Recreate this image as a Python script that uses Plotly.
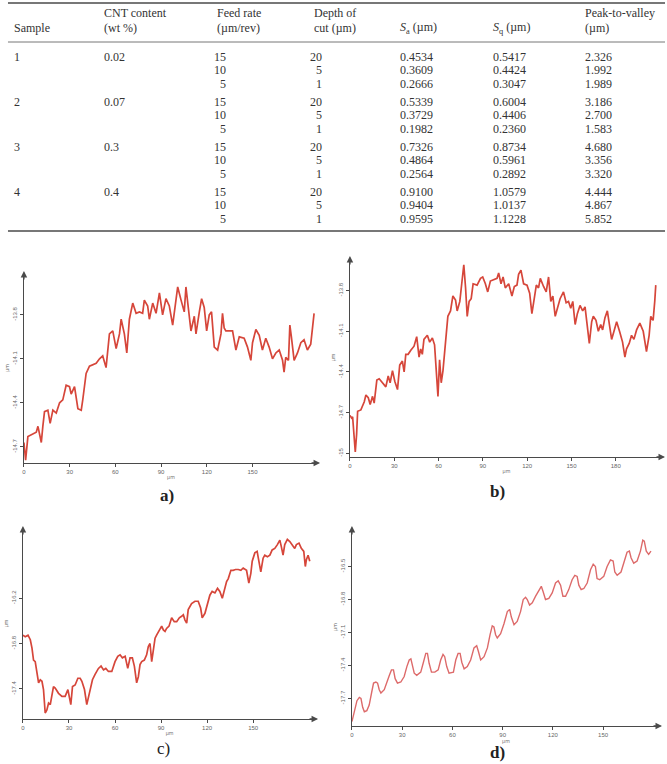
import plotly.graph_objects as go

W, H = 667, 764

# ---------------- table data ----------------
samples = ["1", "2", "3", "4"]
cnt_content = ["0.02", "0.07", "0.3", "0.4"]
feed_rate = [15, 10, 5]
depth_cut = [20, 5, 1]
sa_vals = [[0.4534, 0.3609, 0.2666], [0.5339, 0.3729, 0.1982],
           [0.7326, 0.4864, 0.2564], [0.9100, 0.9404, 0.9595]]
sq_vals = [[0.5417, 0.4424, 0.3047], [0.6004, 0.4406, 0.2360],
           [0.8734, 0.5961, 0.2892], [1.0579, 1.0137, 1.1228]]
pv_vals = [[2.326, 1.992, 1.989], [3.186, 2.700, 1.583],
           [4.680, 3.356, 3.320], [4.444, 4.867, 5.852]]

# ---------------- profile data (µm) ----------------
a_x = [0, 1.1, 2.6, 8.1, 9.2, 10.3, 11.4, 12.4, 13.5, 15.7, 17.2, 19.0, 21.2, 23.4, 25.5, 27.7, 29.9, 31.0, 33.2, 35.4,
       37.6, 38.6, 40.8, 43.0, 45.2, 47.4, 49.6, 51.7, 53.9, 56.1, 58.3, 60.5, 62.7, 63.8, 65.9, 67.5, 69.2, 71.4, 73.6, 75.8,
       77.9, 79.0, 81.2, 82.3, 84.5, 86.7, 88.9, 91.0, 93.2, 95.4, 97.6, 99.8, 100.9, 103.1, 105.2, 106.3, 107.4, 109.6, 111.8, 112.9,
       115.1, 116.6, 118.3, 119.9, 121.6, 123.1, 124.9, 127.1, 129.3, 130.3, 131.4, 132.5, 136.9, 139.1, 141.3, 144.5, 146.7, 148.9, 150.0, 152.2,
       154.4, 156.5, 158.7, 160.9, 163.1, 165.3, 167.5, 169.7, 170.7, 171.8, 173.6, 174.5, 175.5, 177.3, 179.5, 181.7, 183.8, 186.0, 188.2, 190.4]
a_y = [-14.67, -14.79, -14.63, -14.60, -14.56, -14.61, -14.67, -14.56, -14.46, -14.45, -14.54, -14.45, -14.47, -14.40, -14.38, -14.28, -14.29, -14.34, -14.29, -14.44,
       -14.45, -14.38, -14.20, -14.15, -14.14, -14.13, -14.10, -14.08, -14.16, -13.93, -13.91, -14.03, -13.93, -13.83, -13.93, -14.06, -13.83, -13.72, -13.79, -13.78,
       -13.79, -13.70, -13.74, -13.83, -13.72, -13.79, -13.65, -13.80, -13.69, -13.74, -13.87, -13.70, -13.61, -13.70, -13.78, -13.61, -13.70, -13.91, -13.81, -13.93,
       -13.78, -13.69, -13.75, -13.91, -13.80, -13.78, -14.02, -14.04, -13.93, -13.79, -13.89, -13.91, -13.91, -14.04, -13.95, -13.96, -14.02, -14.11, -13.99, -13.90,
       -13.94, -14.04, -13.96, -14.02, -14.10, -14.06, -14.04, -14.11, -14.19, -14.09, -14.11, -13.87, -13.95, -14.11, -14.06, -13.99, -13.97, -14.04, -14.00, -13.79]

b_x = [0, 1.1, 1.8, 2.9, 3.6, 4.5, 5.2, 7.4, 9.7, 10.8, 12.4, 13.7, 15.3, 16.4, 18.2, 19.8, 22.0, 24.3, 25.9, 27.2,
       28.8, 30.4, 32.2, 33.7, 35.5, 36.7, 37.8, 39.4, 41.2, 43.4, 45.2, 46.8, 47.9, 49.0, 50.1, 52.4, 54.0, 55.8, 57.3, 58.7,
       59.6, 60.7, 61.8, 63.0, 64.8, 66.3, 68.1, 69.7, 71.5, 72.6, 74.4, 76.0, 77.1, 78.3, 79.4, 80.7, 82.1, 83.4, 86.1, 88.4,
       89.9, 91.7, 93.3, 95.1, 97.4, 99.6, 100.7, 102.3, 103.7, 105.2, 107.5, 109.7, 111.3, 113.1, 114.2, 115.8, 117.6, 119.9, 121.7, 123.2,
       124.8, 126.2, 127.7, 128.9, 131.1, 132.9, 134.5, 136.0, 137.4, 139.0, 140.5, 142.3, 144.6, 146.4, 148.0, 149.5, 150.9, 152.5, 154.0, 155.8,
       157.6, 159.2, 162.1, 163.7, 164.8, 166.6, 168.2, 169.8, 171.1, 172.7, 174.3, 175.6, 177.2, 178.8, 180.6, 182.8, 184.6, 186.2, 187.3, 189.1,
       190.7, 192.3, 194.1, 196.3, 198.6, 200.8, 202.6, 203.7, 205.3, 206.4, 207.1]
b_y = [-14.72, -14.74, -14.73, -14.91, -14.99, -14.86, -14.69, -14.68, -14.62, -14.57, -14.59, -14.64, -14.58, -14.63, -14.46, -14.45, -14.48, -14.51, -14.43, -14.48,
       -14.39, -14.47, -14.53, -14.35, -14.32, -14.40, -14.27, -14.27, -14.24, -14.21, -14.14, -14.29, -14.23, -14.27, -14.16, -14.13, -14.18, -14.15, -14.20, -14.47,
       -14.58, -14.31, -14.48, -14.39, -14.15, -13.99, -13.95, -13.84, -13.87, -13.95, -13.88, -13.73, -13.61, -13.78, -13.99, -13.88, -13.86, -13.75, -13.76, -13.71,
       -13.70, -13.75, -13.81, -13.73, -13.72, -13.71, -13.67, -13.75, -13.70, -13.78, -13.75, -13.84, -13.77, -13.76, -13.68, -13.65, -13.75, -13.76, -13.82, -13.97,
       -13.86, -13.76, -13.78, -13.71, -13.77, -13.81, -13.70, -13.88, -13.84, -13.99, -13.93, -13.86, -13.81, -13.89, -13.88, -13.93, -13.88, -14.05, -13.97, -13.91,
       -13.95, -13.92, -14.19, -14.03, -13.99, -14.02, -14.10, -14.05, -14.09, -14.00, -13.95, -14.03, -14.16, -14.10, -14.03, -14.11, -14.18, -14.29, -14.23, -14.19,
       -14.13, -14.16, -14.09, -14.04, -14.10, -14.25, -14.13, -13.99, -14.02, -13.88, -13.76]

c_x = [0, 1.5, 3.3, 4.8, 5.9, 6.9, 8.0, 9.1, 10.2, 11.3, 12.4, 13.4, 14.5, 15.6, 16.7, 17.8, 18.9, 19.9, 21.0, 23.2,
       25.4, 27.5, 29.3, 30.3, 31.2, 32.3, 34.0, 35.8, 37.3, 38.4, 40.1, 41.6, 42.7, 43.8, 45.3, 47.0, 49.2, 50.9, 52.5, 54.0,
       55.7, 57.9, 60.0, 61.8, 63.3, 64.8, 66.6, 68.3, 69.8, 71.3, 72.6, 74.1, 75.2, 76.3, 77.4, 79.1, 80.6, 81.7, 82.8, 83.9,
       85.0, 86.1, 87.1, 88.7, 90.4, 91.5, 92.6, 93.6, 95.2, 96.9, 98.6, 100.2, 101.9, 103.4, 104.5, 105.6, 106.7, 107.7, 109.9, 112.1,
       114.2, 115.8, 116.8, 118.6, 120.1, 121.8, 123.3, 125.1, 126.8, 128.3, 129.9, 131.2, 132.7, 133.8, 135.5, 137.0, 138.5, 140.3, 142.0, 143.5,
       145.7, 147.2, 148.5, 149.4, 151.1, 152.6, 153.7, 155.0, 156.5, 157.6, 159.3, 160.9, 162.4, 164.1, 165.8, 167.4, 168.4, 169.5, 170.6, 172.3,
       173.9, 175.4, 177.1, 178.2, 179.9, 181.4, 183.0, 184.0, 184.7, 185.8, 186.9]
c_y = [-16.69, -16.71, -16.69, -16.75, -16.86, -17.02, -17.04, -17.19, -17.32, -17.28, -17.30, -17.41, -17.72, -17.68, -17.59, -17.61, -17.46, -17.37, -17.39, -17.46,
       -17.50, -17.50, -17.41, -17.52, -17.61, -17.37, -17.35, -17.26, -17.26, -17.30, -17.41, -17.61, -17.50, -17.39, -17.28, -17.21, -17.13, -17.10, -17.15, -17.13,
       -17.17, -17.17, -17.04, -16.97, -16.95, -16.99, -16.97, -17.13, -16.99, -16.99, -17.10, -17.32, -17.24, -17.08, -17.04, -17.02, -16.95, -16.84, -16.80, -17.04,
       -16.84, -16.73, -16.69, -16.64, -16.57, -16.62, -16.64, -16.60, -16.57, -16.46, -16.51, -16.51, -16.46, -16.44, -16.42, -16.49, -16.53, -16.35, -16.27, -16.24,
       -16.24, -16.33, -16.46, -16.40, -16.29, -16.16, -16.11, -16.13, -16.07, -16.11, -16.20, -16.11, -15.98, -15.94, -15.83, -15.83, -15.82, -15.82, -15.83, -15.80,
       -15.83, -16.00, -15.87, -15.71, -15.60, -15.58, -15.69, -15.85, -15.67, -15.63, -15.65, -15.63, -15.56, -15.54, -15.49, -15.43, -15.52, -15.63, -15.49, -15.42,
       -15.45, -15.49, -15.54, -15.49, -15.47, -15.54, -15.58, -15.78, -15.69, -15.63, -15.71]

d_x = [0, 1.4, 3.0, 4.4, 5.4, 6.4, 7.4, 8.9, 10.3, 11.7, 12.9, 14.3, 15.3, 16.3, 17.3, 19.3, 20.9, 22.3, 23.6, 24.8,
       25.8, 27.2, 29.2, 31.2, 32.8, 34.2, 35.2, 36.2, 37.2, 38.7, 41.1, 42.7, 44.1, 45.1, 46.1, 47.5, 49.5, 51.5, 53.0, 54.4,
       55.4, 56.6, 58.0, 60.6, 62.0, 63.4, 64.6, 65.6, 67.0, 68.9, 70.9, 72.9, 74.5, 75.5, 76.9, 78.9, 80.9, 82.5, 83.8, 84.8,
       85.8, 86.8, 88.8, 90.8, 92.8, 94.2, 95.2, 96.8, 98.7, 100.7, 102.3, 103.7, 104.7, 106.1, 107.7, 109.7, 111.7, 113.1, 114.2, 115.6,
       117.6, 119.6, 121.6, 123.2, 124.6, 126.0, 127.6, 129.5, 131.5, 133.1, 134.5, 135.5, 136.9, 138.5, 140.5, 142.5, 144.1, 145.4, 146.4, 148.0,
       150.4, 152.4, 154.4, 156.0, 157.0, 158.4, 160.7, 162.7, 164.3, 165.7, 166.7, 168.3, 170.3, 172.3, 173.7, 174.6, 175.8, 177.2, 178.6]
d_y = [-17.91, -17.82, -17.72, -17.69, -17.70, -17.78, -17.82, -17.81, -17.76, -17.65, -17.56, -17.55, -17.56, -17.62, -17.65, -17.62, -17.56, -17.49, -17.44, -17.44,
       -17.52, -17.56, -17.55, -17.50, -17.41, -17.35, -17.34, -17.41, -17.47, -17.49, -17.46, -17.37, -17.29, -17.29, -17.38, -17.46, -17.46, -17.44, -17.35, -17.30,
       -17.32, -17.41, -17.47, -17.46, -17.35, -17.29, -17.29, -17.37, -17.43, -17.41, -17.35, -17.24, -17.22, -17.27, -17.35, -17.32, -17.24, -17.12, -17.04, -17.05,
       -17.12, -17.15, -17.11, -17.02, -16.91, -16.89, -16.96, -17.03, -17.00, -16.91, -16.80, -16.78, -16.80, -16.85, -16.83, -16.77, -16.71, -16.68, -16.73, -16.80,
       -16.79, -16.74, -16.65, -16.63, -16.67, -16.77, -16.77, -16.71, -16.62, -16.58, -16.59, -16.67, -16.71, -16.70, -16.65, -16.53, -16.48, -16.50, -16.61, -16.62,
       -16.59, -16.50, -16.44, -16.45, -16.55, -16.58, -16.55, -16.44, -16.37, -16.36, -16.42, -16.47, -16.45, -16.36, -16.26, -16.27, -16.36, -16.39, -16.36]

x_ticks_a = [0, 30, 60, 90, 120, 150]
x_ticks_b = [0, 30, 60, 90, 120, 150, 180]
y_ticks_a = [-14.7, -14.4, -14.1, -13.8]
y_ticks_b = [-15.0, -14.7, -14.4, -14.1, -13.8]
y_ticks_c = [-17.4, -16.8, -16.2]
y_ticks_d = [-17.7, -17.4, -17.1, -16.8, -16.5]
panel_labels = ["a)", "b)", "c)", "d)"]


def px(x):
    return x / W


def py(y):
    return 1 - y / H


fig = go.Figure()

panels = [
    dict(x=a_x, y=a_y, dom=(22, 317, 273, 463), xr=[0, 193], yr=[-14.81, -13.515],
         xt=x_ticks_a, yt=y_ticks_a, yfmt="{:.1f}", color="#d6463a", width=1.7),
    dict(x=b_x, y=b_y, dom=(349, 663, 258, 457), xr=[0, 212], yr=[-15.027, -13.56],
         xt=x_ticks_b, yt=y_ticks_b, yfmt="{:g}", color="#d6463a", width=1.7),
    dict(x=c_x, y=c_y, dom=(21, 315, 528, 719), xr=[0, 191], yr=[-17.80, -15.27],
         xt=x_ticks_a, yt=y_ticks_c, yfmt="{:.1f}", color="#d6463a", width=1.7),
    dict(x=d_x, y=d_y, dom=(351, 660, 528, 726), xr=[0, 184], yr=[-17.95, -16.15],
         xt=x_ticks_a, yt=y_ticks_d, yfmt="{:.1f}", color="#dd6a6a", width=1.4),
]

annotations = []
shapes = []
axis_col = "#4a4a4a"
tick_font = dict(family="Liberation Sans", size=6, color="#666")

for i, p in enumerate(panels):
    n = "" if i == 0 else str(i + 1)
    xa, ya = "x" + n, "y" + n
    fig.add_trace(go.Scatter(x=p["x"], y=p["y"], mode="lines", xaxis=xa, yaxis=ya,
                             line=dict(color=p["color"], width=p["width"]),
                             showlegend=False, hoverinfo="skip"))
    x0, x1, yt, yb = p["dom"]
    fig.layout["xaxis" + n] = dict(
        domain=[px(x0), px(x1)], range=p["xr"], anchor=ya, showline=True, linecolor=axis_col,
        linewidth=1.3, showgrid=False, zeroline=False, ticks="outside", ticklen=3,
        tickcolor=axis_col, tickvals=p["xt"], ticktext=[str(v) for v in p["xt"]],
        tickfont=tick_font, title=dict(text="µm", font=dict(size=5, color="#666"), standoff=1))
    fig.layout["yaxis" + n] = dict(
        domain=[py(yb), py(yt)], range=p["yr"], anchor=xa, showline=True, linecolor=axis_col,
        linewidth=1.3, showgrid=False, zeroline=False, ticks="outside", ticklen=3,
        tickcolor=axis_col, tickvals=p["yt"], ticktext=[p["yfmt"].format(v) for v in p["yt"]],
        tickangle=-90, tickfont=tick_font,
        title=dict(text="µm", font=dict(size=5, color="#666"), standoff=2))
    annotations.append(dict(x=px(x1 + 2), y=py(yb), xref="paper", yref="paper", text="",
                            showarrow=True, ax=-10, ay=0, arrowhead=2, arrowsize=1,
                            arrowwidth=1.3, arrowcolor=axis_col))
    annotations.append(dict(x=px(x0), y=py(yt - 2), xref="paper", yref="paper", text="",
                            showarrow=True, ax=0, ay=10, arrowhead=2, arrowsize=1,
                            arrowwidth=1.3, arrowcolor=axis_col))

label_pos = [(165, 495, True), (497, 492, True), (162, 748, False), (497, 752, True)]
for lab, (lx, ly, bold) in zip(panel_labels, label_pos):
    annotations.append(dict(x=px(lx), y=py(ly), xref="paper", yref="paper",
                            xanchor="center", yanchor="middle",
                            text=f"<b>{lab}</b>" if bold else lab, showarrow=False,
                            font=dict(family="Liberation Serif", size=17, color="#222")))

# ---------------- table ----------------
tfont = dict(family="Liberation Serif", size=12, color="#333")


def txt(x, y, s, anchor="left"):
    annotations.append(dict(x=px(x), y=py(y), xref="paper", yref="paper", text=s,
                            showarrow=False, xanchor=anchor, yanchor="middle", font=tfont))


col_x = dict(sample=10, cnt=100, feed=214, depth=311, sa=397, sq=490, pv=583)
txt(col_x["sample"], 28, "Sample")
txt(col_x["cnt"], 13, "CNT content")
txt(col_x["cnt"], 28, "(wt %)")
txt(col_x["feed"], 13, "Feed rate")
txt(col_x["feed"], 28, "(µm/rev)")
txt(col_x["depth"], 13, "Depth of")
txt(col_x["depth"], 28, "cut (µm)")
txt(col_x["sa"], 28, "<i>S</i><sub>a</sub> (µm)")
txt(col_x["sq"], 28, "<i>S</i><sub>q</sub> (µm)")
txt(col_x["pv"], 13, "Peak-to-valley")
txt(col_x["pv"], 28, "(µm)")

group_top = [57, 102, 147, 192]
row_step = 13.3
for g in range(4):
    y0 = group_top[g]
    txt(col_x["sample"], y0, samples[g])
    txt(col_x["cnt"], y0, cnt_content[g])
    for r in range(3):
        yy = y0 + r * row_step
        txt(227, yy, str(feed_rate[r]), anchor="right")
        txt(323, yy, str(depth_cut[r]), anchor="right")
        txt(col_x["sa"], yy, f"{sa_vals[g][r]:.4f}")
        txt(col_x["sq"], yy, f"{sq_vals[g][r]:.4f}")
        txt(col_x["pv"], yy, f"{pv_vals[g][r]:.3f}")

for yline, wline in [(3, 1.8), (42, 1.0), (231, 1.8)]:
    shapes.append(dict(type="line", xref="paper", yref="paper", x0=px(6), x1=px(665),
                       y0=py(yline), y1=py(yline), line=dict(color="#777", width=wline)))

fig.update_layout(width=W, height=H, margin=dict(l=0, r=0, t=0, b=0),
                  paper_bgcolor="white", plot_bgcolor="white",
                  annotations=annotations, shapes=shapes, showlegend=False)

fig.write_html("out.html")
